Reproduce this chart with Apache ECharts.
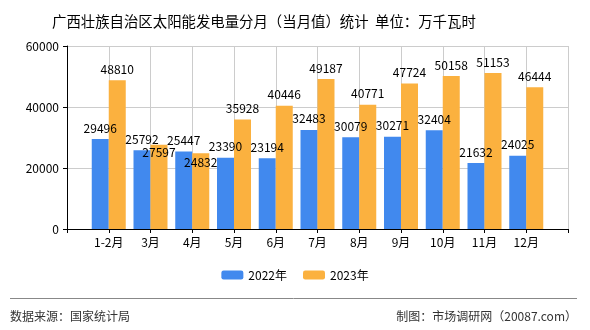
<!DOCTYPE html>
<html>
<head>
<meta charset="utf-8">
<script src="https://cdn.jsdelivr.net/npm/echarts@6/dist/echarts.min.js"></script>
<style>
html,body{margin:0;padding:0;background:#fff;}
#c{width:590px;height:330px;}
</style>
</head>
<body>
<div id="c"></div>
<script>
var categories = ['1-2月','3月','4月','5月','6月','7月','8月','9月','10月','11月','12月'];
var series2022 = [29496,25792,25447,23390,23194,32483,30079,30271,32404,21632,24025];
var series2023 = [48810,27597,24832,35928,40446,49187,40771,47724,50158,51153,46444];
var seriesNames = ['2022年','2023年'];
var yTicks = [0,20000,40000,60000];

// label nudges (index -> offset) used to avoid overlaps like the reference
var labelNudge2023 = {1:[0,19],2:[0,20]};

var axisCats = [''].concat(categories).concat(['']);
function pad(arr, nudge){
  var out = [null];
  arr.forEach(function(v,i){
    if (nudge && nudge[i]) out.push({value:v,label:{offset:nudge[i]}});
    else out.push(v);
  });
  out.push(null);
  return out;
}
var font = '"Noto Sans CJK SC", sans-serif';
var chart = echarts.init(document.getElementById('c'), null, {renderer:'canvas'});
chart.setOption({
  animation:false,
  textStyle:{fontFamily:font},
  title:{
    text:'广西壮族自治区太阳能发电量分月（当月值）统计  单位：万千瓦时',
    left:47, top:9,
    textStyle:{fontSize:14.4, fontWeight:'normal', color:'#000', fontFamily:font}
  },
  legend:{
    data:seriesNames,
    bottom:44, left:'center',
    itemWidth:22, itemHeight:9, itemGap:16,
    textStyle:{fontSize:12,color:'#000',fontFamily:font}
  },
  grid:{left:67, right:22, top:46, bottom:101},
  xAxis:{
    type:'category',
    data:axisCats,
    boundaryGap:false,
    axisLine:{lineStyle:{color:'#000'}},
    axisTick:{show:true, length:4, lineStyle:{color:'#000'}},
    axisLabel:{color:'#000', fontSize:12, margin:7, fontFamily:font, interval:0},
    splitLine:{show:true, lineStyle:{color:'#cccccc'}}
  },
  yAxis:{
    type:'value',
    min:yTicks[0], max:yTicks[yTicks.length-1], interval:yTicks[1]-yTicks[0],
    axisLine:{show:true, lineStyle:{color:'#000'}},
    axisTick:{show:true, length:4, lineStyle:{color:'#000'}},
    axisLabel:{color:'#000', fontSize:12, margin:8, fontFamily:font, formatter:function(v){return String(v);}},
    splitLine:{show:true, lineStyle:{color:'#cccccc'}}
  },
  series:[
    {
      name:seriesNames[0], type:'bar', data:pad(series2022),
      barWidth:17, barGap:'0%',
      itemStyle:{color:'#4189ee'},
      label:{show:true, position:'top', distance:5, color:'#000', fontSize:12, fontFamily:font}
    },
    {
      name:seriesNames[1], type:'bar', data:pad(series2023, labelNudge2023),
      barWidth:17, barGap:'0%',
      itemStyle:{color:'#fbb13f'},
      label:{show:true, position:'top', distance:5, color:'#000', fontSize:12, fontFamily:font}
    }
  ],
  graphic:[
    {type:'line', shape:{x1:10,y1:298.5,x2:577,y2:298.5}, style:{stroke:'#888',lineWidth:1}},
    {type:'text', left:10, top:310, style:{text:'数据来源：国家统计局', fill:'#333', font:'12px '+font}},
    {type:'text', right:13, top:310, style:{text:'制图：市场调研网（20087.com）', fill:'#333', font:'12px '+font}}
  ]
});
</script>
</body>
</html>
